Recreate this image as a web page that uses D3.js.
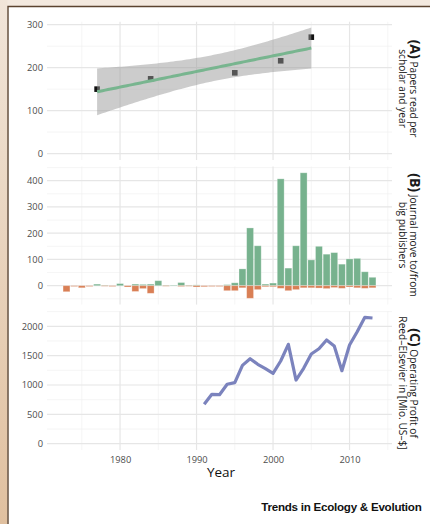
<!DOCTYPE html>
<html>
<head>
<meta charset="utf-8">
<script src="https://cdn.jsdelivr.net/npm/d3@7"></script>
<style>
  html, body { margin: 0; padding: 0; background: #ffffff; }
  svg { display: block; }
</style>
</head>
<body>
<svg id="chart" width="430" height="524"></svg>
<script>
// ---------------- DATA ----------------
// (A) Papers read per scholar and year
const readYears  = [1977, 1984, 1995, 2001, 2005];
const readValues = [150, 174, 188, 216, 271];

// (B) Journals moving to / from big publishers
const moveYears = [1973,1974,1975,1976,1977,1978,1979,1980,1981,1982,1983,1984,1985,1986,1987,1988,1989,1990,1991,1992,1993,
                   1994,1995,1996,1997,1998,1999,2000,2001,2002,2003,2004,2005,2006,2007,2008,2009,2010,2011,2012,2013];
const movedTo   = [0,0,0,0,6,2,0,8,0,6,5,6,19,2,2,12,2,3,0,0,0,
                   4,11,64,220,152,6,10,407,67,152,430,98,150,120,126,82,102,104,53,32];
const movedFrom = [-23,-3,-8,-3,0,-2,-3,0,-5,-22,-11,-29,0,-2,0,-3,-2,-5,-4,-3,-3,
                   -19,-19,-8,-48,-15,-4,-4,-10,-19,-15,-8,-8,-9,-11,-7,-10,-5,-8,-10,-8];

// (C) Operating profit of Reed-Elsevier (Mio. US-$)
const profitYears  = [1991,1992,1993,1994,1995,1996,1997,1998,1999,2000,2001,2002,2003,2004,2005,2006,2007,2008,2009,2010,2011,2012,2013];
const profitValues = [671,841,835,1012,1040,1335,1448,1352,1278,1199,1409,1693,1085,1284,1528,1618,1767,1664,1244,1681,1908,2153,2141];

// Tick labels
const xMajorTicks = [1980, 1990, 2000, 2010];
const xMinorTicks = [1975, 1985, 1995, 2005, 2015];
const aMajor = [0, 100, 200, 300], aMinor = [50, 150, 250];
const bMajor = [0, 100, 200, 300, 400], bMinor = [-50, 50, 150, 250, 350, 450];
const cMajor = [0, 500, 1000, 1500, 2000], cMinor = [250, 750, 1250, 1750, 2250];

// ---------------- LAYOUT ----------------
const svg = d3.select("#chart");
const W = 430, H = 524;
const FONT = "'Open Sans', 'DejaVu Sans', sans-serif";

// frame
const defs = svg.append("defs");
const lg = defs.append("linearGradient").attr("id", "leftGrad").attr("x1", 0).attr("y1", 0).attr("x2", 0).attr("y2", 1);
lg.append("stop").attr("offset", "0%").attr("stop-color", "#f1e5d9");
lg.append("stop").attr("offset", "100%").attr("stop-color", "#e0c09f");
svg.append("rect").attr("x", 0).attr("y", 0).attr("width", W).attr("height", H).attr("fill", "#ffffff");
svg.append("rect").attr("x", 0).attr("y", 0).attr("width", W).attr("height", 6.5).attr("fill", "#f3e9df");
svg.append("rect").attr("x", 0).attr("y", 0).attr("width", 7.5).attr("height", H).attr("fill", "url(#leftGrad)");
svg.append("path").attr("d", `M8,${H} V6.5 H${W}`).attr("fill", "none").attr("stroke", "#5b4330").attr("stroke-width", 1.4);

const xL = 47, xR = 392;
const x = d3.scaleLinear().domain([1970.45, 2015.55]).range([xL, xR]);

const panels = [
  { key: "A", y: d3.scaleLinear().domain([-15, 307]).range([160, 21.7]), major: aMajor, minor: aMinor,
    lines: [["(A)", "\u00a0Papers read per"], ["", "scholar and year"]], cy: 88.5 },
  { key: "B", y: d3.scaleLinear().domain([-72, 454]).range([304.6, 166.5]), major: bMajor, minor: bMinor,
    lines: [["(B)", "\u00a0Journal move to/from"], ["", "big publishers"]], cy: 235 },
  { key: "C", y: d3.scaleLinear().domain([-107, 2257]).range([450, 311.2]), major: cMajor, minor: cMinor,
    lines: [["(C)", "\u00a0Operating Profit of"], ["", "Reed\u2013Elsevier in [Mio. US\u2013$]"]], cy: 383 }
];

panels.forEach(p => {
  const g = svg.append("g");
  const [yb, yt] = p.y.range();
  // minor grid
  g.selectAll(".hmin").data(p.minor).join("line")
    .attr("x1", xL).attr("x2", xR).attr("y1", d => p.y(d)).attr("y2", d => p.y(d))
    .attr("stroke", "#f0f0f0").attr("stroke-width", 0.7);
  g.selectAll(".vmin").data(xMinorTicks).join("line")
    .attr("x1", d => x(d)).attr("x2", d => x(d)).attr("y1", yt).attr("y2", yb)
    .attr("stroke", "#f0f0f0").attr("stroke-width", 0.7);
  // major grid
  g.selectAll(".hmaj").data(p.major).join("line")
    .attr("x1", xL).attr("x2", xR).attr("y1", d => p.y(d)).attr("y2", d => p.y(d))
    .attr("stroke", "#e6e6e6").attr("stroke-width", 1.2);
  g.selectAll(".vmaj").data(xMajorTicks).join("line")
    .attr("x1", d => x(d)).attr("x2", d => x(d)).attr("y1", yt).attr("y2", yb)
    .attr("stroke", "#e6e6e6").attr("stroke-width", 1.2);
  // y axis labels
  const ax = d3.axisLeft(p.y).tickValues(p.major).tickSize(0).tickPadding(4).tickFormat(d3.format("d"));
  const axg = svg.append("g").attr("transform", `translate(${xL},0)`).call(ax);
  axg.select(".domain").remove();
  axg.selectAll("text").attr("font-family", FONT).attr("font-size", 9.3).attr("fill", "#4d4d4d");
  p.g = g;

  // strip label (rotated)
  const sg = svg.append("g").attr("transform", `translate(404,${p.cy}) rotate(90)`);
  const offs = [-6, 5.5];
  p.lines.forEach((ln, i) => {
    const t = sg.append("text").attr("x", 0).attr("y", offs[i]).attr("text-anchor", "middle")
      .attr("font-family", FONT).attr("fill", "#1a1a1a");
    if (ln[0]) t.append("tspan").attr("font-weight", "bold").attr("font-size", 14).text(ln[0]);
    t.append("tspan").attr("font-size", 10.2).text(ln[1]);
  });
});

// ---------------- PANEL A ----------------
(function () {
  const p = panels[0], g = p.g, y = p.y;
  const n = readYears.length;
  const mx = d3.mean(readYears), my = d3.mean(readValues);
  const sxx = d3.sum(readYears, d => (d - mx) ** 2);
  const sxy = d3.sum(readYears.map((d, i) => (d - mx) * (readValues[i] - my)));
  const b = sxy / sxx, a = my - b * mx;
  const sse = d3.sum(readYears.map((d, i) => (readValues[i] - (a + b * d)) ** 2));
  const s = Math.sqrt(sse / (n - 2));
  const tcrit = 3.182446; // t(0.975, df = 3)
  const grid = d3.range(80).map(i => readYears[0] + (readYears[n - 1] - readYears[0]) * i / 79);
  const fit = grid.map(xx => {
    const yh = a + b * xx;
    const se = s * Math.sqrt(1 / n + (xx - mx) ** 2 / sxx);
    return { x: xx, y: yh, lo: yh - tcrit * se, hi: yh + tcrit * se };
  });

  g.selectAll(".pt").data(readYears).join("rect")
    .attr("x", d => x(d) - 2.8).attr("y", (d, i) => y(readValues[i]) - 2.8)
    .attr("width", 5.6).attr("height", 5.6).attr("fill", "#111");

  g.append("path").datum(fit)
    .attr("d", d3.area().x(d => x(d.x)).y0(d => y(d.lo)).y1(d => y(d.hi)))
    .attr("fill", "#999999").attr("fill-opacity", 0.5);
  g.append("path").datum(fit)
    .attr("d", d3.line().x(d => x(d.x)).y(d => y(d.y)))
    .attr("fill", "none").attr("stroke", "#78b58f").attr("stroke-width", 3);
})();

// ---------------- PANEL B ----------------
(function () {
  const p = panels[1], g = p.g, y = p.y;
  const hw = 0.45;
  g.selectAll(".to").data(moveYears).join("rect")
    .attr("x", d => x(d - hw)).attr("width", d => x(d + hw) - x(d - hw))
    .attr("y", (d, i) => y(Math.max(0, movedTo[i])))
    .attr("height", (d, i) => Math.abs(y(movedTo[i]) - y(0)))
    .attr("fill", "#77b28e").attr("stroke", "#ffffff").attr("stroke-opacity", 0.35).attr("stroke-width", 0.8);
  g.selectAll(".from").data(moveYears).join("rect")
    .attr("x", d => x(d - hw)).attr("width", d => x(d + hw) - x(d - hw))
    .attr("y", y(0))
    .attr("height", (d, i) => Math.abs(y(movedFrom[i]) - y(0)))
    .attr("fill", "#d97f55").attr("stroke", "#ffffff").attr("stroke-opacity", 0.35).attr("stroke-width", 0.8);
})();

// ---------------- PANEL C ----------------
(function () {
  const p = panels[2], g = p.g, y = p.y;
  g.append("path").datum(profitYears)
    .attr("d", d3.line().x(d => x(d)).y((d, i) => y(profitValues[i])))
    .attr("fill", "none").attr("stroke", "#7b83bd").attr("stroke-width", 3.2)
    .attr("stroke-linejoin", "round");
})();

// ---------------- X AXIS ----------------
const xa = d3.axisBottom(x).tickValues(xMajorTicks).tickSize(0).tickPadding(6).tickFormat(d3.format("d"));
const xag = svg.append("g").attr("transform", "translate(0,450)").call(xa);
xag.select(".domain").remove();
xag.selectAll("text").attr("font-family", FONT).attr("font-size", 9.3).attr("fill", "#4d4d4d");

svg.append("text").attr("x", 221).attr("y", 477).attr("text-anchor", "middle")
  .attr("font-family", FONT).attr("font-size", 13.5).attr("fill", "#111").text("Year");

svg.append("text").attr("x", 421.5).attr("y", 510.5).attr("text-anchor", "end")
  .attr("font-family", "'Liberation Sans', Arial, sans-serif").attr("font-weight", "bold")
  .attr("font-size", 11.6).attr("letter-spacing", -0.25).attr("fill", "#111")
  .text("Trends in Ecology & Evolution");
</script>
</body>
</html>
